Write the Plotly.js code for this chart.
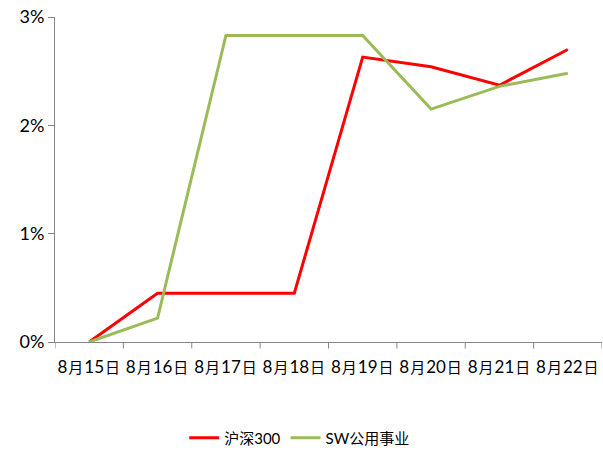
<!DOCTYPE html>
<html><head><meta charset="utf-8">
<script src="https://cdn.plot.ly/plotly-3.0.1.min.js"></script>
<style>html,body{margin:0;padding:0;background:#fff}#chart{width:603px;height:456px}</style>
</head><body><div id="chart"></div>
<script>
var categories = ["8月15日","8月16日","8月17日","8月18日","8月19日","8月20日","8月21日","8月22日"];
var hs300 = [0.0, 0.45, 0.45, 0.45, 2.63, 2.54, 2.37, 2.70];
var swUtil = [0.0, 0.22, 2.83, 2.83, 2.83, 2.15, 2.36, 2.48];
var yTickVals = [0, 1, 2, 3];
var yTickText = ["0%","1%","2%","3%"];

var fontFam = "Lato, 'Noto Sans CJK SC', sans-serif";
var xIdx = categories.map(function(_, i){ return i; });
// render CJK characters slightly smaller than digits, as in the reference
var xTickText = categories.map(function(c){
  return c.replace(/([\u4e00-\u9fff])/g, "<span style=\"font-size:15px\">\u200A$1\u200A</span>");
});

var traces = [
  {x: xIdx, y: hs300, type: "scatter", mode: "lines", name: "沪深300",
   line: {color: "#FF0000", width: 3}},
  {x: xIdx, y: swUtil, type: "scatter", mode: "lines", name: "SW公用事业",
   line: {color: "#9BBB59", width: 3}}
];

var layout = {
  width: 603, height: 456,
  margin: {l: 55, r: 1, t: 17, b: 114},
  paper_bgcolor: "#fff", plot_bgcolor: "#fff",
  font: {family: fontFam, size: 15, color: "#000"},
  showlegend: true,
  legend: {orientation: "h", xref: "container", yref: "container", x: 0.497, xanchor: "center",
           y: 1 - 438/456, yanchor: "middle", font: {family: fontFam, size: 15}},
  xaxis: {
    range: [-0.5, 7.5], tickmode: "array", tickvals: xIdx, ticktext: xTickText,
    showgrid: false, zeroline: false, showline: true, linecolor: "#868686", linewidth: 1,
    ticks: "", fixedrange: true, tickfont: {size: 17}, tickangle: 0, ticklabelstandoff: 10
  },
  yaxis: {
    range: [0, 3], tickmode: "array", tickvals: yTickVals, ticktext: yTickText,
    showgrid: false, zeroline: false, showline: true, linecolor: "#868686", linewidth: 1,
    ticks: "outside", ticklen: 6, tickcolor: "#868686", tickfont: {size: 18}
  },
  shapes: []
};
// x-axis tick marks between categories (boundary ticks)
for (var i = 0; i <= categories.length; i++) {
  layout.shapes.push({type: "line", xref: "x", yref: "paper", x0: i - 0.5, x1: i - 0.5,
    y0: 0, y1: -0.02, line: {color: "#868686", width: 1}});
}
Plotly.newPlot("chart", traces, layout, {displayModeBar: false, staticPlot: true});
</script></body></html>
